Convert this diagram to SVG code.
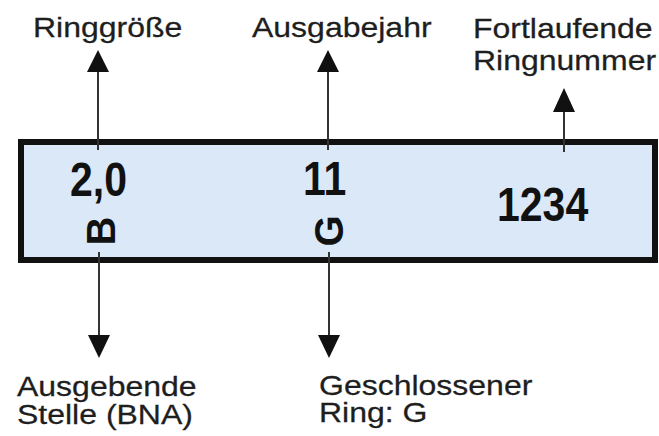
<svg xmlns="http://www.w3.org/2000/svg" width="659" height="436" viewBox="0 0 659 436">
  <style>
    .label { font-family: "Liberation Sans", Arial, sans-serif; font-size: 32px; fill: #1e1e1e; stroke: #1e1e1e; stroke-width: 0.3px; }
    .code { font-family: "Liberation Sans", Arial, sans-serif; font-weight: bold; fill: #111; }
    .lead { stroke: #333; stroke-width: 2; fill: none; }
    .head { fill: #111; }
  </style>
  <rect width="659" height="436" fill="#ffffff"/>

  <!-- ring band -->
  <g id="ring">
    <rect x="21" y="142" width="634" height="118" fill="#dbe8f8" stroke="#111" stroke-width="6"/>
    <text class="code" font-size="41" transform="matrix(1 0 0 1.15 70 196)">2,0</text>
    <text class="code" font-size="41" transform="matrix(1 0 0 1.15 303 195)">11</text>
    <text class="code" font-size="41" transform="matrix(1 0 0 1.15 497 221)">1234</text>
    <text class="code" font-size="40" text-anchor="middle" transform="translate(115 231) rotate(-90)">B</text>
    <text class="code" font-size="40" text-anchor="middle" transform="translate(343 231) rotate(-90)">G</text>
  </g>

  <!-- leader lines and arrowheads -->
  <g id="connectors">
    <line class="lead" x1="98" y1="70" x2="98" y2="150"/>
    <polygon class="head" points="98,50 87,72 109,72"/>
    <line class="lead" x1="328" y1="70" x2="328" y2="150"/>
    <polygon class="head" points="328,50 317,72 339,72"/>
    <line class="lead" x1="564" y1="110" x2="564" y2="152"/>
    <polygon class="head" points="564,88 553,112 575,112"/>
    <line class="lead" x1="99" y1="252" x2="99" y2="337"/>
    <polygon class="head" points="99,358 88,335 110,335"/>
    <line class="lead" x1="329" y1="252" x2="329" y2="337"/>
    <polygon class="head" points="329,358 318,335 340,335"/>
  </g>

  <g id="ringgroesse">
    <text class="label" transform="matrix(1 0 0 0.86 33 37)">Ringgröße</text>
  </g>
  <g id="ausgabejahr">
    <text class="label" transform="matrix(1 0 0 0.86 252 37)">Ausgabejahr</text>
  </g>
  <g id="ringnummer">
    <text class="label" transform="matrix(1 0 0 0.86 473 38)">Fortlaufende</text>
    <text class="label" transform="matrix(1 0 0 0.86 473 70)">Ringnummer</text>
  </g>
  <g id="ausgebende-stelle">
    <text class="label" transform="matrix(1 0 0 0.86 17 396)">Ausgebende</text>
    <text class="label" transform="matrix(1 0 0 0.86 17 424)">Stelle (BNA)</text>
  </g>
  <g id="geschlossener-ring">
    <text class="label" transform="matrix(1 0 0 0.86 319 395)">Geschlossener</text>
    <text class="label" transform="matrix(1 0 0 0.86 319 422)">Ring: G</text>
  </g>
</svg>
